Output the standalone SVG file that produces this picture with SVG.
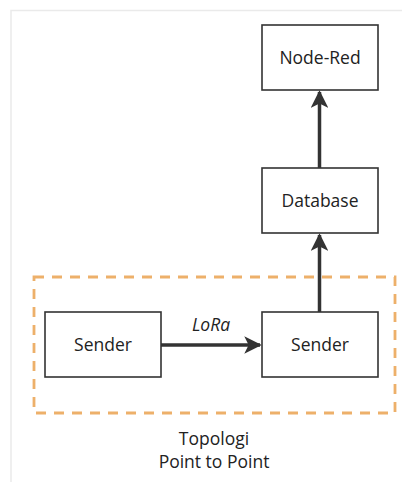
<svg xmlns="http://www.w3.org/2000/svg" width="402" height="482" viewBox="0 0 402 482">
<style>
.box{fill:#fff;stroke:#333;stroke-width:1.6}
.lbl{font-family:"Open Sans","Noto Sans",sans-serif;font-size:17.5px;fill:#222;text-anchor:middle}
.conn{stroke:#333;stroke-width:3.5;fill:none}
</style>
<defs>
<marker id="ah" viewBox="0 0 10 10" refX="9" refY="5" markerWidth="5" markerHeight="5" markerUnits="strokeWidth" orient="auto">
<path d="M0,0 L10,5 L0,10 L2.5,5 Z" fill="#333"/>
</marker>
</defs>
<rect x="0" y="0" width="402" height="482" fill="#fff"/>
<path d="M11,482 V10.5 H402" fill="none" stroke="#eaeaea" stroke-width="1.5"/>
<g id="group-box">
<rect x="34" y="277" width="361" height="136" fill="none" stroke="#EDB06A" stroke-width="2.8" stroke-dasharray="10,8"/>
</g>
<g id="connectors">
<line class="conn" x1="319.5" y1="168" x2="319.5" y2="92" marker-end="url(#ah)"/>
<line class="conn" x1="319.5" y1="312" x2="319.5" y2="235" marker-end="url(#ah)"/>
<line class="conn" x1="161" y1="345" x2="260" y2="345" marker-end="url(#ah)"/>
<text x="211" y="331" class="lbl" font-style="italic">LoRa</text>
</g>
<g id="node-red">
<rect class="box" x="262" y="25" width="116" height="65"/>
<text class="lbl" x="320" y="64">Node-Red</text>
</g>
<g id="database">
<rect class="box" x="262" y="168" width="116" height="65"/>
<text class="lbl" x="320" y="207">Database</text>
</g>
<g id="sender-left">
<rect class="box" x="45" y="312" width="116" height="65"/>
<text class="lbl" x="103" y="351">Sender</text>
</g>
<g id="sender-right">
<rect class="box" x="262" y="312" width="116" height="65"/>
<text class="lbl" x="320" y="351">Sender</text>
</g>
<g id="caption">
<text class="lbl" x="214" y="445">Topologi</text>
<text class="lbl" x="214" y="468">Point to Point</text>
</g>
</svg>
